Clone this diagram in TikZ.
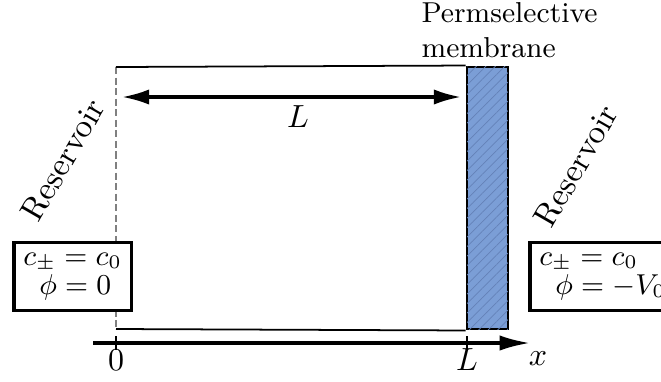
\documentclass[tikz,border=0pt]{standalone}
\usepackage{amsmath}
\usepackage{tikz}
\usetikzlibrary{
arrows.meta,
positioning,
patterns.meta
}
\definecolor{MemBlue}{HTML}{7B9ED6}
\definecolor{MemHatch}{HTML}{6482B8}
\definecolor{WallGray}{HTML}{808080}
\tikzset{
chanline/.style={draw=black, line width=0.55pt},
wallline/.style={draw=WallGray, line width=0.9pt, dash pattern=on 2.2pt off 1.1pt},
membox/.style={draw=black, line width=0.9pt, fill=MemBlue,
  postaction={pattern={Lines[angle=45, distance=2.1pt, line width=0.25pt]}, pattern color=MemHatch},
  minimum width=12.8pt, minimum height=81.9pt, inner sep=0pt},
bcbox/.style={draw=black, line width=1.1pt, fill=white, align=left,
  font=\fontsize{9}{9}\selectfont, inner xsep=3pt, minimum height=21pt, anchor=west},
resvlabel/.style={rotate=60, font=\fontsize{10.3}{12}\selectfont},
lenarrow/.style={{Latex[length=8.5pt,width=4.8pt]}-{Latex[length=8.5pt,width=4.8pt]}, line width=1pt},
axisarrow/.style={-{Latex[length=9.5pt,width=4.8pt]}, line width=1pt},
tick/.style={line width=0.8pt}
}
\begin{document}
\begin{tikzpicture}[x=0.3125pt, y=-0.3125pt]
\useasboundingbox (0,0) rectangle (661,381);

% channel
\coordinate (chtop) at (116,67);
\coordinate (chbot) at (116,329);
\node[membox] (mem) at (487.5,198) {};
\draw[wallline] (chtop) -- (chbot);
\draw[chanline] (chtop) -- (mem.north west);
\draw[chanline] (chbot) -- (mem.south west);

\node[font=\fontsize{9}{10.8}\selectfont, align=left, anchor=north west, inner sep=0pt]
  (memlabel) at (421,2) {Permselective\\membrane};

% length
\coordinate (lenA) at (122,97);
\coordinate (lenB) at (461,97);
\draw[lenarrow] (lenA) -- (lenB);
\node (lenlabel) at (298,117) {$L$};

% reservoirs
\node[resvlabel] (resL) at (63,160) {Reservoir};
\node[resvlabel] (resR) at (576,166) {Reservoir};
\node[bcbox] (bcL) at (12,276.5) {$c_\pm = c_0$\\\hspace{5pt}$\phi = 0$};
\node[bcbox] (bcR) at (528,276.5) {$c_\pm = c_0$\\\hspace{5pt}$\phi = -V_0$};

% axis
\coordinate (axA) at (93,343);
\coordinate (axB) at (530,343);
\draw[axisarrow] (axA) -- (axB);
\node (xlabel) at (538,359) {$x$};
\foreach \xx/\lab/\nm in {116/0/tzero, 467/L/tlen}{
\draw[tick] (\xx,336) -- (\xx,350);
\node (\nm) at (\xx,360) {$\lab$};
}
\end{tikzpicture}
\end{document}
